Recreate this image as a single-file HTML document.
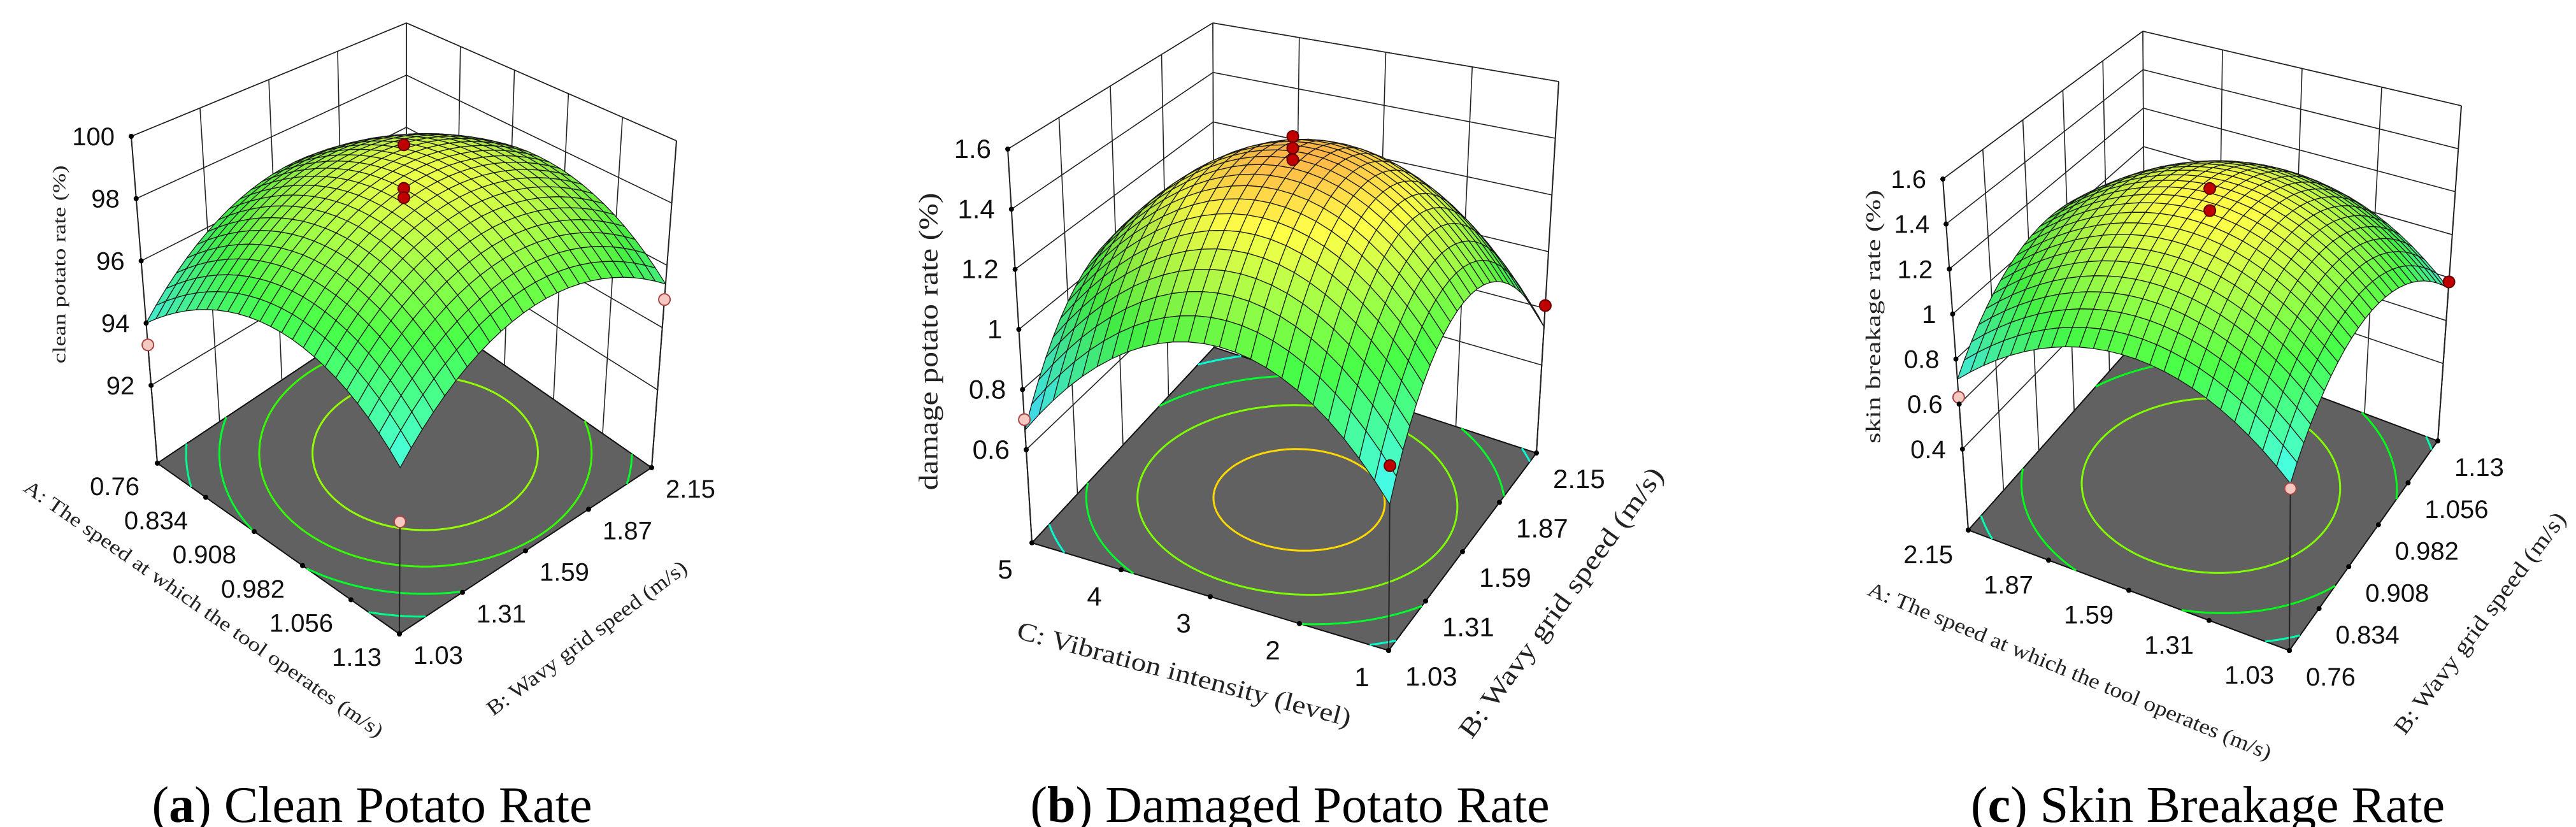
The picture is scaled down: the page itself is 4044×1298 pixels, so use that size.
<!DOCTYPE html>
<html><head><meta charset="utf-8"><title>Response surfaces</title>
<style>html,body{margin:0;padding:0;background:#fff;}svg{display:block;}</style></head>
<body>
<svg id="chart" xmlns="http://www.w3.org/2000/svg" width="4044" height="1298" viewBox="0 0 4044 1298"></svg>
<script>
// ---- Panel A data (clean potato rate) ----
const panelACoef = [98.8, 0.05, 0.65, 0, -2.05, -2.05];
const panelAZTicks = [92, 94, 96, 98, 100];
const panelAUTicks = ['0.76','0.834','0.908','0.982','1.056','1.13'];
const panelAVTicks = ['1.03','1.31','1.59','1.87','2.15'];
const panelALevels = [93, 94, 95, 96, 97, 98];
const panelAPtU = [0.5, 0.5, 0.5, 0, 1, 1];
const panelAPtV = [0.5, 0.5, 0.5, 0, 1, 0];
const panelAPtZ = [99.8, 98.4, 98.1, 93.3, 94.9, 92.6];
const panelAPtHigh = [1, 1, 1, 0, 0, 0];
// ---- Panel B data (damaged potato rate) ----
const panelBCoef = [1.48, 0.03, 0.005, 0, -0.39, -0.39];
const panelBZTicks = [0.6, 0.8, 1, 1.2, 1.4, 1.6];
const panelBUTicks = ['5','4','3','2','1'];
const panelBVTicks = ['1.03','1.31','1.59','1.87','2.15'];
const panelBLevels = [0.6, 0.8, 1.0, 1.2, 1.4];
const panelBPtU = [0.5, 0.5, 0.5, 0, 1, 1];
const panelBPtV = [0.5, 0.5, 0.5, 0, 1, 0];
const panelBPtZ = [1.53, 1.49, 1.45, 0.70, 0.81, 0.84];
const panelBPtHigh = [1, 1, 1, 0, 1, 1];
// ---- Panel C data (skin breakage rate) ----
const panelCCoef = [1.38, 0.0, 0.02, 0, -0.325, -0.325];
const panelCZTicks = [0.4, 0.6, 0.8, 1, 1.2, 1.4, 1.6];
const panelCUTicks = ['2.15','1.87','1.59','1.31','1.03'];
const panelCVTicks = ['0.76','0.834','0.908','0.982','1.056','1.13'];
const panelCLevels = [0.6, 0.8, 1.0, 1.2];
const panelCPtU = [0.5, 0.5, 0, 1, 1];
const panelCPtV = [0.5, 0.5, 0, 1, 0];
const panelCPtZ = [1.40, 1.30, 0.63, 0.78, 0.69];
const panelCPtHigh = [1, 1, 0, 1, 0];

const NS = 'http://www.w3.org/2000/svg';
const svg = document.getElementById('chart');
function mk(tag, attrs, parent) {
  const e = document.createElementNS(NS, tag);
  for (const k in attrs) e.setAttribute(k, attrs[k]);
  (parent || svg).appendChild(e);
  return e;
}
function cmapRGB(t) {
  const st = [[0,[0,0,255]],[0.25,[0,255,255]],[0.5,[0,255,0]],[0.75,[255,255,0]],[1,[255,0,0]]];
  t = Math.max(0, Math.min(1, t));
  for (let i = 0; i < st.length - 1; i++) {
    if (t <= st[i+1][0]) {
      const f = (t - st[i][0]) / (st[i+1][0] - st[i][0]);
      return st[i][1].map((c, k) => c + (st[i+1][1][k] - c) * f);
    }
  }
  return st[4][1];
}
function rgbStr(c) { return 'rgb(' + c.map(v => Math.round(Math.max(0, Math.min(255, v)))).join(',') + ')'; }

const panels = [
  { id:'a', coef:panelACoef, zTicks:panelAZTicks, uTicks:panelAUTicks, vTicks:panelAVTicks, levels:panelALevels,
    ptU:panelAPtU, ptV:panelAPtV, ptZ:panelAPtZ, ptHigh:panelAPtHigh,
    zmin:89.5, zmax:100, cmin:91.1, cmax:101.8,
    L:[247,727], F:[627,995], R:[1023,734], K:[638,466], Lt:[206,214], Ft:[630,399], Rt:[1062,221], Kt:[638,36],
    fs:40, uLab:{dx:-28,dy:50,anchor:'end'}, vLab:{dx:22,dy:47},
    uTitle:{text:'A: The speed at which the tool operates (m/s)', x:318, y:958, rot:34.9, len:680, fs:31},
    vTitle:{text:'B: Wavy grid speed (m/s)', x:923, y:1004, rot:-36.7, len:383, fs:33},
    zTitle:{text:'clean potato rate (%)', x:96, y:415, len:311, fs:29},
    cap:{x:584, pre:'a', text:'Clean Potato Rate'} },
  { id:'b', coef:panelBCoef, zTicks:panelBZTicks, uTicks:panelBUTicks, vTicks:panelBVTicks, levels:panelBLevels,
    ptU:panelBPtU, ptV:panelBPtV, ptZ:panelBPtZ, ptHigh:panelBPtHigh,
    zmin:0.29, zmax:1.6, cmin:0.44, cmax:1.66,
    L:[1620,852], F:[2180,1021], R:[2412,711], K:[1906,545], Lt:[1582,234], Ft:[2185,330], Rt:[2447,128], Kt:[1904,36],
    fs:42, uLab:{dx:-42,dy:56,anchor:'middle'}, vLab:{dx:26,dy:55},
    uTitle:{text:'C: Vibration intensity (level)', x:1858, y:1062, rot:14.9, len:541, fs:40},
    vTitle:{text:'B: Wavy grid speed (m/s)', x:2454, y:948, rot:-53.9, len:514, fs:42},
    zTitle:{text:'damage potato rate (%)', x:1462, y:536, len:467, fs:42},
    cap:{x:2025, pre:'b', text:'Damaged Potato Rate'} },
  { id:'c', coef:panelCCoef, zTicks:panelCZTicks, uTicks:panelCUTicks, vTicks:panelCVTicks, levels:panelCLevels,
    ptU:panelCPtU, ptV:panelCPtV, ptZ:panelCPtZ, ptHigh:panelCPtHigh,
    zmin:0.04, zmax:1.6, cmin:0.36, cmax:1.70,
    L:[3090,832], F:[3594,1021], R:[3827,692], K:[3367,520], Lt:[3050,281], Ft:[3598,411], Rt:[3864,166], Kt:[3364,49],
    fs:40, uLab:{dx:-24,dy:52,anchor:'end'}, vLab:{dx:26,dy:55},
    uTitle:{text:'A: The speed at which the tool operates (m/s)', x:3248, y:1056, rot:22.4, len:682, fs:33},
    vTitle:{text:'B: Wavy grid speed (m/s)', x:3896, y:980, rot:-53.2, len:425, fs:36},
    zTitle:{text:'skin breakage rate (%)', x:2944, y:497, len:398, fs:33},
    cap:{x:3466, pre:'c', text:'Skin Breakage Rate'} }
];

panels.forEach(p => {
  const g = mk('g', {});
  
  
  const f = (u, v) => { const a = 2*u-1, b = 2*v-1, c = p.coef; return c[0]+c[1]*a+c[2]*b+c[3]*a*b+c[4]*a*a+c[5]*b*b; };
  const wOf = z => (z - p.zmin) / (p.zmax - p.zmin);
  const bil = (A, B, C, D, u, v) => [0,1].map(k => A[k]*(1-u)*(1-v) + B[k]*u*(1-v) + C[k]*u*v + D[k]*(1-u)*v);
  const P = (u, v, w) => { const lo = bil(p.L, p.F, p.R, p.K, u, v), hi = bil(p.Lt, p.Ft, p.Rt, p.Kt, u, v);
    return [lo[0] + (hi[0]-lo[0])*w, lo[1] + (hi[1]-lo[1])*w]; };
  const pt = q => q[0].toFixed(1) + ',' + q[1].toFixed(1);

  const floor = mk('polygon', {points:[p.L,p.F,p.R,p.K].map(pt).join(' '), fill:'#616161', stroke:'#111', 'stroke-width':2}, g);
  
  

  const M = 80;
  const grid = [];
  for (let i = 0; i <= M; i++) { grid.push([]); for (let j = 0; j <= M; j++) grid[i].push(f(i/M, j/M)); }
  p.levels.forEach(lv => {
    let d = '';
    for (let i = 0; i < M; i++) for (let j = 0; j < M; j++) {
      const cs = [[i,j],[i+1,j],[i+1,j+1],[i,j+1]];
      const pts = [];
      for (let k = 0; k < 4; k++) {
        const A = cs[k], B = cs[(k+1)%4];
        const va = grid[A[0]][A[1]], vb = grid[B[0]][B[1]];
        if ((va - lv) * (vb - lv) < 0) {
          const t = (lv - va) / (vb - va);
          pts.push(P((A[0] + (B[0]-A[0])*t)/M, (A[1] + (B[1]-A[1])*t)/M, 0));
        }
      }
      if (pts.length >= 2) d += 'M' + pt(pts[0]) + 'L' + pt(pts[1]);
    }
    if (d) {
      const cl = mk('path', {d:d, stroke:rgbStr(cmapRGB((lv - p.cmin)/(p.cmax - p.cmin))), 'stroke-width':3, fill:'none'}, g);
      
      
    }
  });

  const line = (a, b, w, name) => { const l = mk('line', {x1:a[0], y1:a[1], x2:b[0], y2:b[1], stroke:'#222', 'stroke-width':w}, g);
    
     };
  const zws = p.zTicks.map(wOf).concat([1]);
  zws.forEach(w => { line(P(0,0,w), P(0,1,w), 1.6, 'wall-gridline'); line(P(0,1,w), P(1,1,w), 1.6, 'wall-gridline'); });
  p.vTicks.forEach((t, j) => { const v = j/(p.vTicks.length-1); line(P(0,v,0), P(0,v,1), 1.6, 'wall-gridline'); });
  p.uTicks.forEach((t, i) => { const u = i/(p.uTicks.length-1); line(P(u,1,0), P(u,1,1), 1.6, 'wall-gridline'); });
  line(P(0,0,0), P(0,0,1), 2, 'z-axis-line');
  line(P(1,1,0), P(1,1,1), 2, 'right-edge-line');

  // drop lines only for boundary points (center ones hidden under surface)
  p.ptZ.forEach((z, k) => {
    if (p.ptU[k] === 0.5) return;
    line(P(p.ptU[k], p.ptV[k], 0), P(p.ptU[k], p.ptV[k], wOf(z)), 2, 'design-point-dropline');
  });

  const N = 24, quads = [];
  for (let i = 0; i < N; i++) for (let j = 0; j < N; j++) {
    const u0 = i/N, u1 = (i+1)/N, v0 = j/N, v1 = (j+1)/N;
    const z00 = f(u0,v0), z10 = f(u1,v0), z11 = f(u1,v1), z01 = f(u0,v1);
    const zc = (z00+z10+z11+z01)/4;
    const h = 1.2 / (p.zmax - p.zmin);
    const dzu = ((z10+z11)-(z00+z01))/2*h/(1/N), dzv = ((z01+z11)-(z00+z10))/2*h/(1/N);
    let n = [-dzu, -dzv, 1]; const nl = Math.hypot(n[0],n[1],n[2]); n = n.map(x => x/nl);
    const Lv = [0.35, -0.35, 0.87];
    const lam = Math.max(0, n[0]*Lv[0] + n[1]*Lv[1] + n[2]*Lv[2]);
    const base = cmapRGB((zc - p.cmin)/(p.cmax - p.cmin)).map(c => c*0.72 + 255*0.28);
    const br = 0.8 + 0.22*lam;
    quads.push({depth:(u0+u1)/2 - (v0+v1)/2, pts:[P(u0,v0,wOf(z00)), P(u1,v0,wOf(z10)), P(u1,v1,wOf(z11)), P(u0,v1,wOf(z01))], col:rgbStr(base.map(c => c*br))});
  }
  quads.sort((a, b) => a.depth - b.depth);
  const sg = mk('g', {}, g);
  
  
  quads.forEach(q => {
    const poly = mk('polygon', {points:q.pts.map(pt).join(' '), fill:q.col, stroke:'#1a1a1a', 'stroke-width':1.3, 'stroke-linejoin':'round'}, sg);
    
    
  });

  p.ptZ.forEach((z, k) => {
    const q = P(p.ptU[k], p.ptV[k], wOf(z));
    const c = mk('circle', {cx:q[0], cy:q[1], r:9, fill:p.ptHigh[k] ? '#c00000' : '#f6c8c2', stroke:p.ptHigh[k] ? '#600' : '#a44', 'stroke-width':2}, g);
    
    
  });

  const txt = (x, y, s, fs, anchor, family, name) => { const t = mk('text', {x:x, y:y, 'font-size':fs, 'text-anchor':anchor, 'font-family':family, fill:'#111'}, g); t.textContent = s;
    
    
    return t; };
  const SANS = '"Liberation Sans", "DejaVu Sans", sans-serif', SERIF = '"Liberation Serif", serif';
  p.zTicks.forEach(z => { const q = P(0,0,wOf(z));
    const d = mk('circle', {cx:q[0], cy:q[1], r:4, fill:'#000'}, g);
    
    
    txt(q[0]-26, q[1]+14, String(z), p.fs, 'end', SANS, 'z-tick-label'); });
  p.uTicks.forEach((s, i) => { const q = P(i/(p.uTicks.length-1), 0, 0);
    const d = mk('circle', {cx:q[0], cy:q[1], r:4, fill:'#000'}, g);
    
    
    txt(q[0]+p.uLab.dx, q[1]+p.uLab.dy, s, p.fs, p.uLab.anchor, SANS, 'x-tick-label'); });
  p.vTicks.forEach((s, j) => { const q = P(1, j/(p.vTicks.length-1), 0);
    const d = mk('circle', {cx:q[0], cy:q[1], r:4, fill:'#000'}, g);
    
    
    txt(q[0]+p.vLab.dx, q[1]+p.vLab.dy, s, p.fs, 'start', SANS, 'y-tick-label'); });

  const ttl = (o, rot, name) => { const t = mk('text', {x:0, y:0, 'font-size':o.fs, 'text-anchor':'middle', 'dominant-baseline':'middle', 'font-family':SERIF, fill:'#222', textLength:o.len, lengthAdjust:'spacingAndGlyphs', transform:'translate(' + o.x + ',' + o.y + ') rotate(' + rot + ')'}, g);
    t.textContent = o.text;
    
     };
  ttl(p.uTitle, p.uTitle.rot, 'x-axis-title');
  ttl(p.vTitle, p.vTitle.rot, 'y-axis-title');
  ttl(p.zTitle, -90, 'z-axis-title');

  const cap = mk('text', {x:p.cap.x, y:1290, 'font-size':80, 'text-anchor':'middle', 'font-family':SERIF, fill:'#000'}, g);
  
  
  const t1 = mk('tspan', {}, cap); t1.textContent = '(';
  const t2 = mk('tspan', {'font-weight':'bold'}, cap); t2.textContent = p.cap.pre;
  const t3 = mk('tspan', {}, cap); t3.textContent = ') ' + p.cap.text;
});
</script>
</body></html>
